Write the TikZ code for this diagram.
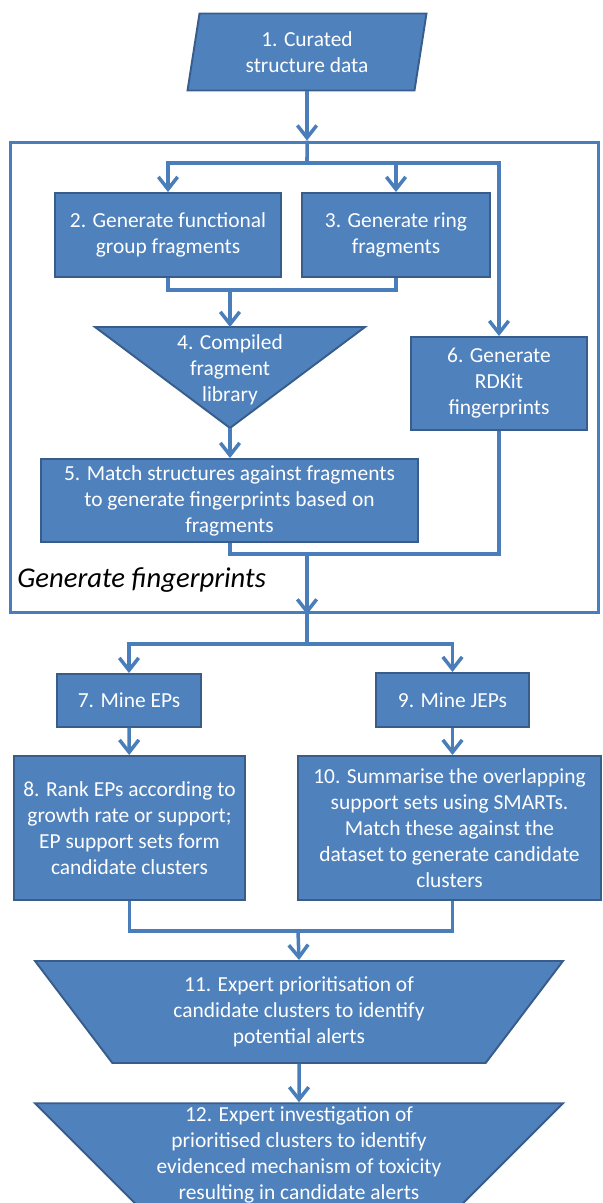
\documentclass[tikz,border=0pt]{standalone}
\usepackage{fontspec}
\setmainfont{Carlito}
\usetikzlibrary{shapes.geometric}
\usetikzlibrary{arrows.meta}
\definecolor{boxblue}{HTML}{4F81BD}
\definecolor{boxedge}{HTML}{385D8A}
\definecolor{linkblue}{HTML}{4A7EBB}

\begin{document}
\begin{tikzpicture}[x=0.02cm,y=-0.02cm,
  >={Straight Barb[length=7pt,width=11pt]},
  every node/.style={font=\fontsize{12.2pt}{14.8pt}\selectfont},
  box/.style={draw=boxedge,fill=boxblue,line width=1.1pt,text=white,align=center,inner sep=2pt},
  slanted/.style={box,trapezium,trapezium left angle=76,trapezium right angle=104,trapezium stretches body},
  funnel/.style={box,trapezium,shape border rotate=180,trapezium left angle=45,trapezium right angle=45,trapezium stretches body},
  link/.style={draw=linkblue,line width=2pt},
  frame/.style={draw=linkblue,line width=1.7pt,inner sep=0}]
\useasboundingbox (0,0) rectangle (602,1203);
\clip (0,0) rectangle (602,1203);
\node[frame,minimum width=11.78cm,minimum height=9.42cm] (gf) at (304.5,377.5) {};
\node[slanted,minimum width=4.78cm,minimum height=1.54cm] (n1) at (307,52) {1. Curated\\structure data};
\node[box,minimum width=4.52cm,minimum height=1.68cm] (n2) at (168,235) {2. Generate functional\\group fragments};
\node[box,minimum width=3.76cm,minimum height=1.68cm] (n3) at (396,235) {3. Generate ring\\fragments};
\coordinate (n4top) at (230,327);
\coordinate (n4tip) at (230,428);
\path[box] (95,327) -- (365,327) -- (n4tip) -- cycle;
\node[text=white,align=center] (n4) at (230,370) {4. Compiled\\fragment\\library};
\node[box,minimum width=7.54cm,minimum height=1.66cm] (n5) at (229.5,500.5) {5. Match structures against fragments\\to generate fingerprints based on\\fragments};
\node[box,minimum width=3.52cm,minimum height=1.86cm] (n6) at (499,383.5) {6. Generate\\RDKit\\fingerprints};
\node[anchor=west,inner sep=0,font=\fontsize{16.3pt}{18pt}\selectfont\itshape] (gflabel) at (17,580) {Generate fingerprints};
\node[box,minimum width=2.88cm,minimum height=1.06cm] (n7) at (129,700.5) {7. Mine EPs};
\node[box,minimum width=3.06cm,minimum height=1.08cm] (n9) at (452.5,700) {9. Mine JEPs};
\node[box,minimum width=4.62cm,minimum height=2.88cm] (n8) at (129.5,828) {8. Rank EPs according to\\growth rate or support;\\EP support sets form\\candidate clusters};
\node[box,minimum width=6.06cm,minimum height=2.88cm] (n10) at (449.5,828) {10. Summarise the overlapping\\support sets using SMARTs.\\Match these against the\\dataset to generate candidate\\clusters};
\node[funnel,minimum width=10.56cm,minimum height=2.04cm] (n11) at (299,1012) {11. Expert prioritisation of\\candidate clusters to identify\\potential alerts};
\node[funnel,minimum width=10.56cm,minimum height=2cm] (n12) at (299,1155) {12. Expert investigation of\\prioritised clusters to identify\\evidenced mechanism of toxicity\\resulting in candidate alerts};
\coordinate (s1) at (307,163);
\coordinate (j1) at (230,290);
\coordinate (j2) at (307,554);
\coordinate (s2) at (307,644);
\coordinate (j3) at (298,931);
\draw[link,->] (n1.south) -- (n1.south |- gf.north);
\draw[link] (n1.south |- gf.north) -- (s1);
\draw[link,->] (s1) -| (n2.north);
\draw[link,->] (s1) -| (n6.north);
\draw[link,->] (n3.north |- s1) -- (n3.north);
\draw[link] (n2.south) |- (j1) -| (n3.south);
\draw[link,->] (j1) -- (n4top);
\draw[link,->] (n4tip) -- (n5.north -| n4tip);
\draw[link] (n5.south -| n4tip) |- (j2) -| (n6.south);
\draw[link,->] (j2) -- (j2 |- gf.south);
\draw[link] (j2 |- gf.south) -- (s2);
\draw[link,->] (s2) -| (n7.north);
\draw[link,->] (s2) -| (n9.north);
\draw[link,->] (n7) -- (n8);
\draw[link,->] (n9.south) -- (n9.south |- n10.north);
\draw[link] (n8.south) |- (j3) -| (n9.south |- n10.south);
\draw[link,->] (j3) -- (n11.north);
\draw[link,->] (n11.south) -- (n12.north);
\end{tikzpicture}
\end{document}
